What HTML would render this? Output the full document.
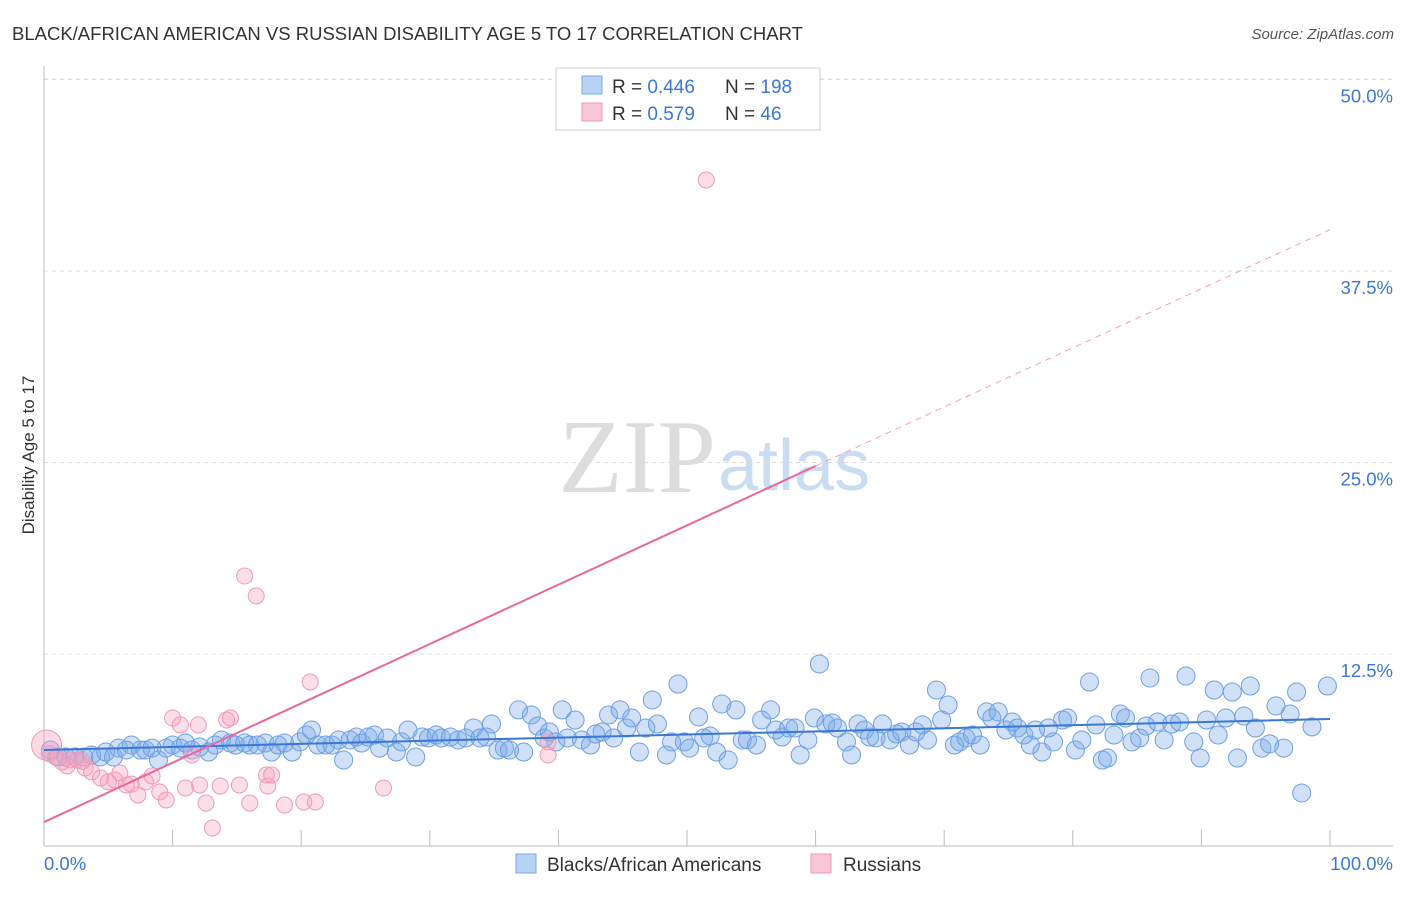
<!DOCTYPE html>
<html><head><meta charset="utf-8">
<style>
body{margin:0;background:#fff;font-family:"Liberation Sans",sans-serif;}
</style></head>
<body>
<svg id="chart" width="1406" height="892" xmlns="http://www.w3.org/2000/svg" font-family="Liberation Sans, sans-serif">
<text x="12" y="40" font-size="18.5" fill="#333">BLACK/AFRICAN AMERICAN VS RUSSIAN DISABILITY AGE 5 TO 17 CORRELATION CHART</text>
<text x="1394" y="39" font-size="15" fill="#555" text-anchor="end" font-style="italic">Source: ZipAtlas.com</text>
<text x="716" y="492" font-size="105" fill="#ddd" text-anchor="end" style="font-family:'Liberation Serif',serif">ZIP</text>
<text x="718" y="490" font-size="72" fill="#c9dcf2" style="font-family:'Liberation Sans',sans-serif">atlas</text>
<text transform="translate(34,455) rotate(-90)" font-size="17" fill="#333" text-anchor="middle">Disability Age 5 to 17</text>
<g id="grid"></g>
<g id="marks"></g>
<g>
<rect x="556" y="68" width="264" height="62" fill="#fff" stroke="#ccc"/>
<rect x="582" y="76" width="20" height="18" fill="#b9d3f5" stroke="#7aa7e6"/>
<rect x="582" y="103" width="20" height="18" fill="#f8c6d6" stroke="#ef9ab6"/>
<text x="612" y="93" font-size="19" fill="#333">R = <tspan fill="#3a78d6">0.446</tspan></text>
<text x="725" y="93" font-size="19" fill="#333">N = <tspan fill="#3a78d6">198</tspan></text>
<text x="612" y="120" font-size="19" fill="#333">R = <tspan fill="#3a78d6">0.579</tspan></text>
<text x="725" y="120" font-size="19" fill="#333">N = <tspan fill="#3a78d6"> 46</tspan></text>
</g>
<g>
<rect x="516" y="854" width="20" height="19" fill="#b9d3f5" stroke="#7aa7e6"/>
<text x="547" y="871" font-size="19" fill="#333">Blacks/African Americans</text>
<rect x="811" y="854" width="20" height="19" fill="#f8c6d6" stroke="#ef9ab6"/>
<text x="843" y="871" font-size="19" fill="#333">Russians</text>
</g>
</svg>
<script>
const yTicks=[12.5,25,37.5,50];
const yTickLabels=["12.5%","25.0%","37.5%","50.0%"];
const xTickLabels=["0.0%","100.0%"];
const blueX=[0.5,1.1,1.7,2.4,3.1,3.7,4.4,4.8,5.4,5.8,6.4,6.8,7.5,7.9,8.4,8.9,9.5,10.0,10.6,11.0,11.5,12.1,12.8,13.3,13.8,14.5,14.9,15.6,16.0,16.6,17.2,17.7,18.2,18.7,19.3,19.9,20.4,20.8,21.3,21.9,22.4,22.9,23.3,23.8,24.3,24.7,25.2,25.7,26.1,26.7,27.4,27.8,28.3,28.9,29.4,29.9,30.5,30.9,31.6,32.2,32.8,33.4,33.9,34.4,34.8,35.3,35.8,36.2,36.9,37.3,37.9,38.4,38.9,39.3,39.8,40.3,40.7,41.3,41.8,42.5,42.9,43.4,43.9,44.3,44.8,45.3,45.7,46.3,46.8,47.3,47.7,48.4,48.8,49.3,49.8,50.2,50.9,51.3,51.8,52.3,52.7,53.2,53.8,54.3,54.7,55.4,55.8,56.5,56.9,57.4,57.9,58.4,58.8,59.4,59.9,60.3,60.8,61.3,61.7,62.4,62.8,63.3,63.8,64.2,64.7,65.2,65.8,66.3,66.7,67.3,67.8,68.3,68.7,69.4,69.8,70.3,70.8,71.2,71.7,72.2,72.8,73.3,73.7,74.2,74.8,75.3,75.7,76.2,76.7,77.1,77.6,78.1,78.5,79.2,79.6,80.2,80.7,81.3,81.8,82.3,82.7,83.2,83.7,84.1,84.6,85.2,85.7,86.0,86.6,87.1,87.7,88.3,88.8,89.4,89.9,90.4,91.0,91.3,91.9,92.4,92.8,93.3,93.8,94.2,94.7,95.3,95.8,96.4,96.9,97.4,97.8,98.6,99.8];
const blueY=[6.23,5.78,5.78,5.78,5.78,5.91,5.78,6.10,5.78,6.36,6.23,6.56,6.23,6.23,6.36,5.58,6.36,6.56,6.36,6.69,6.23,6.43,6.10,6.56,6.89,6.69,6.56,6.69,6.56,6.56,6.69,6.10,6.56,6.69,6.10,6.76,7.21,7.54,6.56,6.56,6.56,6.89,5.58,6.89,7.08,6.69,7.08,7.21,6.36,7.02,6.10,6.76,7.54,5.78,7.08,7.02,7.21,7.02,7.08,6.89,7.02,7.67,7.02,7.08,7.93,6.23,6.36,6.23,8.85,6.10,8.52,7.80,7.02,7.41,6.76,8.85,7.02,8.19,6.89,6.56,7.28,7.41,8.52,7.02,8.85,7.67,8.32,6.10,7.67,9.50,7.93,5.91,6.76,10.54,6.76,6.36,8.39,7.02,7.15,6.10,9.24,5.58,8.85,6.89,6.89,6.56,8.19,8.85,7.54,7.08,7.67,7.67,5.91,6.89,8.32,11.85,7.93,8.00,7.67,6.76,5.91,7.93,7.54,7.08,7.02,7.93,6.89,7.28,7.41,6.56,7.41,7.87,6.89,10.15,8.19,9.17,6.56,6.76,7.02,7.21,6.56,8.72,8.32,8.72,7.54,8.06,7.67,7.21,6.56,7.54,6.10,7.67,6.76,8.19,8.32,6.23,6.89,10.67,7.87,5.58,5.71,7.21,8.58,8.32,6.76,7.02,7.80,10.93,8.06,6.89,7.93,8.06,11.06,6.76,5.71,8.19,10.15,7.21,8.32,10.02,5.71,8.45,10.41,7.67,6.36,6.63,9.11,6.36,8.58,10.02,3.43,7.74,10.41];
const pinkX=[0.9,1.4,2.0,2.6,3.2,3.7,4.4,5.0,5.5,5.9,6.4,6.8,7.3,7.9,8.4,9.0,9.5,10.0,10.6,11.0,11.5,12.0,12.1,12.6,13.1,13.7,14.2,14.5,15.2,15.6,16.0,16.5,17.3,17.4,17.7,18.7,20.2,20.7,21.1,26.4,39.2,39.2,51.5,0.4,1.8,3.0];
const pinkY=[5.78,5.45,5.58,5.58,5.06,4.80,4.41,4.15,4.28,4.73,3.95,4.01,3.30,4.15,4.54,3.49,2.97,8.32,7.87,3.75,5.91,7.87,3.95,2.77,1.14,3.88,8.19,8.32,3.95,17.59,2.77,16.29,4.60,3.88,4.60,2.64,2.84,10.67,2.84,3.75,6.76,5.91,43.44,6.0,5.2,5.5];
const blueTrend=[6.23,8.26];
const pinkTrend=[1.53,24.77,40.2];

const NS="http://www.w3.org/2000/svg";
const X0=44,X1=1330,Y0=845.5,PX=15.32;
function sx(v){return X0+(X1-X0)*v/100;}
function sy(v){return Y0-v*PX;}
function mk(tag,attrs,parent){const e=document.createElementNS(NS,tag);for(const k in attrs)e.setAttribute(k,attrs[k]);parent.appendChild(e);return e;}
const grid=document.getElementById('grid'),marks=document.getElementById('marks');
yTicks.forEach((t,i)=>{
  const l=mk('line',{x1:X0,x2:1393,y1:sy(t),y2:sy(t),stroke:'#ddd','stroke-dasharray':'4,4'},grid);
  
  
  const tx=mk('text',{x:1393,y:sy(t)+23,'font-size':18.5,fill:'#3a78d6','text-anchor':'end'},grid);
  tx.textContent=yTickLabels[i];
  
  
});
const topLine=mk('line',{x1:X0,x2:1393,y1:79,y2:79,stroke:'#ddd','stroke-dasharray':'4,4'},grid);


const yAxisLine=mk('line',{x1:X0,x2:X0,y1:66,y2:846,stroke:'#bbb'},grid);


const xAxisLine=mk('line',{x1:X0,x2:1393,y1:846,y2:846,stroke:'#bbb'},grid);


for(let i=1;i<=10;i++){
  const tk=mk('line',{x1:sx(i*10),x2:sx(i*10),y1:830,y2:846,stroke:'#bbb'},grid);
  
  
}
[[0,'start',X0],[1,'end',1393]].forEach(([i,a,x])=>{
  const tx=mk('text',{x:x,y:870,'font-size':18.5,fill:'#3a78d6','text-anchor':a},grid);
  tx.textContent=xTickLabels[i];
  
  
});
blueX.forEach((v,i)=>{
  const c=mk('circle',{cx:sx(v),cy:sy(blueY[i]),r:9,fill:'rgba(120,168,232,0.35)',stroke:'#6e9fe2','stroke-width':1},marks);
  
  
});
pinkX.forEach((v,i)=>{
  const c=mk('circle',{cx:sx(v),cy:sy(pinkY[i]),r:8,fill:'rgba(245,160,190,0.35)',stroke:'#ef9ab6','stroke-width':1},marks);
  
  
});
const big=mk('circle',{cx:sx(0.2),cy:sy(6.56),r:15,fill:'rgba(245,160,190,0.4)',stroke:'#ef9ab6'},marks);


const bl=mk('line',{x1:sx(0),y1:sy(blueTrend[0]),x2:sx(100),y2:sy(blueTrend[1]),stroke:'#3a78d6','stroke-width':2},marks);


const pl=mk('line',{x1:sx(0),y1:sy(pinkTrend[0]),x2:sx(60),y2:sy(pinkTrend[1]),stroke:'#e8689a','stroke-width':2},marks);


const pd=mk('line',{x1:sx(60),y1:sy(pinkTrend[1]),x2:sx(100),y2:sy(pinkTrend[2]),stroke:'#efa0bd','stroke-width':1,'stroke-dasharray':'6,5'},marks);


</script>
</body></html>
